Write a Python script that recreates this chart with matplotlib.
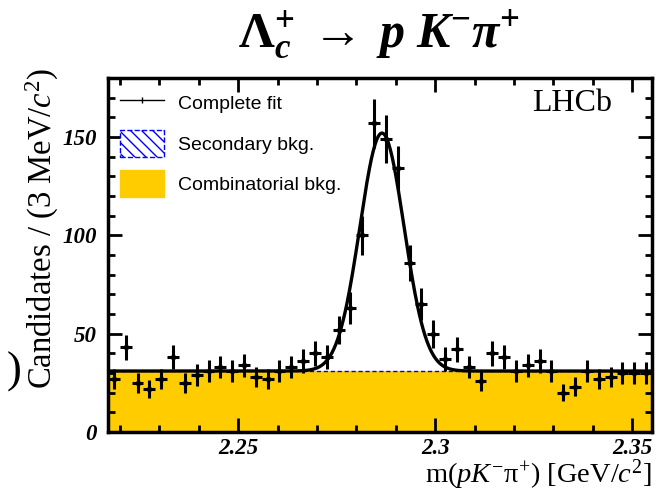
import numpy as np
import matplotlib
matplotlib.use("Agg")
import matplotlib.pyplot as plt
from matplotlib.lines import Line2D
from matplotlib.patches import Patch
from matplotlib.ticker import MultipleLocator

plt.rcParams['mathtext.fontset'] = 'custom'
plt.rcParams['mathtext.rm'] = 'Liberation Serif'
plt.rcParams['mathtext.it'] = 'Liberation Serif:italic'
plt.rcParams['mathtext.bf'] = 'Liberation Serif:bold'
plt.rcParams['mathtext.bfit'] = 'Liberation Serif:italic:bold'
plt.rcParams['hatch.color'] = 'blue'

# data: 3 MeV bins, 2.217 - 2.355 GeV
bin_lo = 2.217
bin_w = 0.003
counts = [27, 43, 25, 22, 27, 38, 25, 29, 31, 33,
          31, 34, 28, 27, 31, 33, 36, 40, 38, 52,
          63, 100, 157, 149, 134, 86, 65, 50, 37, 42,
          33, 26, 40, 38, 31, 34, 36, 31, 20, 23,
          31, 27, 28, 30, 30, 30]

# fit result
comb_level = 31.0
sig_amp = 121.0
sig_mean = 2.2865
sig_width = 0.0056

counts = np.array(counts)
centers = bin_lo + bin_w * (np.arange(len(counts)) + 0.5)
x_hi = bin_lo + bin_w * len(counts)

fig = plt.figure(figsize=(6.56, 4.92), dpi=100)
ax = fig.add_axes([108/656, 1-432/492, 544/656, 354/492])

gold = '#ffcc00'
xf = np.linspace(bin_lo, x_hi, 600)
fit = comb_level + sig_amp * np.exp(-0.5 * ((xf - sig_mean) / sig_width) ** 2)

ax.fill_between([bin_lo, x_hi], 0, comb_level, color=gold, lw=0, zorder=1)
ax.plot([bin_lo, x_hi], [comb_level, comb_level], color='blue', lw=1, ls=(0, (3, 2)), zorder=2)
ax.plot(xf, fit, color='black', lw=2.4, zorder=3)
ax.errorbar(centers, counts, yerr=np.sqrt(counts), xerr=bin_w/2, fmt='o', ms=3,
            color='black', ecolor='black', elinewidth=2.2, capsize=0, zorder=4)

ax.set_xlim(bin_lo, x_hi)
ax.set_ylim(0, 180)
ax.xaxis.set_major_locator(MultipleLocator(0.05))
ax.xaxis.set_minor_locator(MultipleLocator(0.01))
ax.yaxis.set_major_locator(MultipleLocator(50))
ax.yaxis.set_minor_locator(MultipleLocator(10))
ax.xaxis.set_major_formatter(matplotlib.ticker.FuncFormatter(lambda v, p: ('%g' % round(v, 3))))
ax.tick_params(which='both', direction='in', top=True, right=True, width=2)
ax.tick_params(which='major', length=10)
ax.tick_params(which='minor', length=5)
ax.tick_params(axis='y', pad=8)
ax.tick_params(axis='x', pad=4)
for lab in ax.get_xticklabels() + ax.get_yticklabels():
    lab.set_fontfamily('Liberation Serif')
    lab.set_fontstyle('italic')
    lab.set_fontweight('bold')
    lab.set_fontsize(16.5)
for s in ax.spines.values():
    s.set_linewidth(2.5)

handles = [Line2D([0], [0], color='black', lw=1, marker='|', ms=4),
           Patch(facecolor='white', edgecolor='blue', hatch='\\\\\\', ls='--', lw=1),
           Patch(facecolor=gold, edgecolor=gold)]
labels = ['Complete fit', 'Secondary bkg.', 'Combinatorial bkg.']
ax.legend(handles, labels, loc='upper left', frameon=False,
          prop={'family': 'Liberation Sans', 'size': 14},
          handlelength=2.3, handleheight=1.75, handletextpad=0.7,
          labelspacing=0.68, borderaxespad=0.45, borderpad=0.15)

ax.text(0.926, 0.97, 'LHCb', transform=ax.transAxes, ha='right', va='top',
        family='Liberation Serif', fontsize=23)

fig.text(0.578, 0.93, r'$\mathbf{\Lambda}_{\mathbfit{c}}^{\mathbf{+}}\;\rightarrow\;\mathbfit{p}\ \mathbfit{K}^{\mathbf{-}}\mathbfit{\pi}^{\mathbf{+}}$',
         ha='center', va='center', fontsize=36)
fig.text(0.065, 1-68/492, r'Candidates / (3 MeV/$c^{2}$)', rotation=90, ha='center', va='top',
         family='Liberation Serif', fontsize=23.5)
fig.text(652/656, 1-491.5/492, r'm($pK^{-}\mathrm{π}^{+}$) [GeV/$c^{2}$]', ha='right', va='bottom',
         family='Liberation Serif', fontsize=20.5)
fig.text(14/656, 1-372/492, ')', ha='center', va='center', family='Liberation Serif',
         fontsize=32)

fig.savefig('out.png', dpi=100)
